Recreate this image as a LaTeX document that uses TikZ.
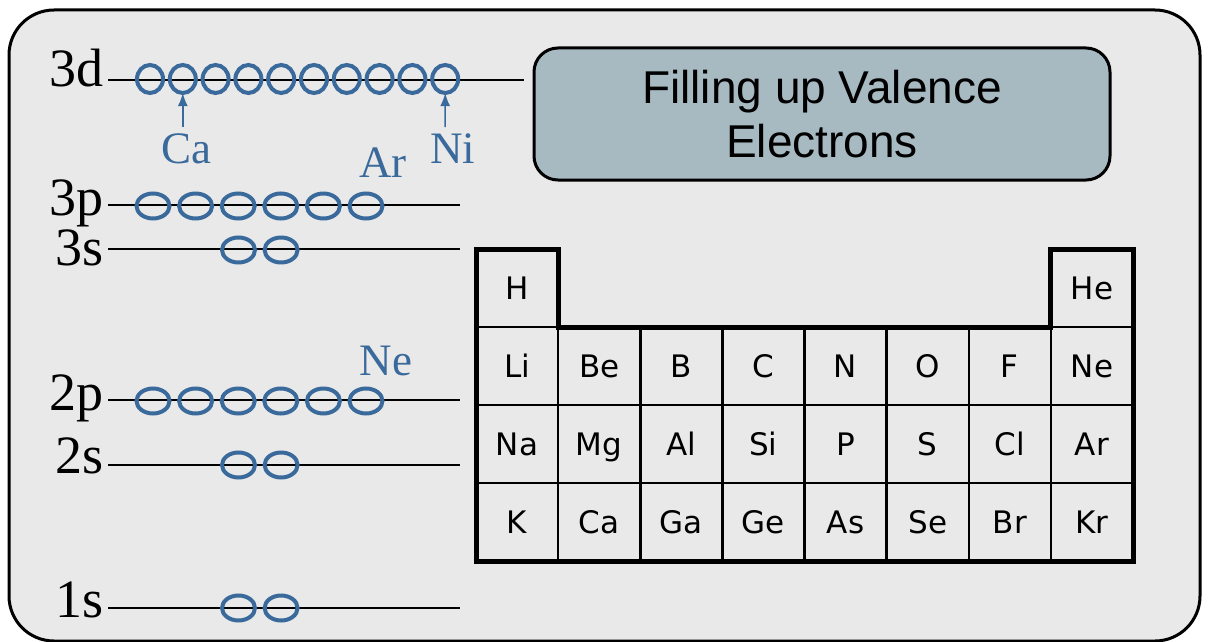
\documentclass[tikz,border=0pt]{standalone}
\usepackage{fontspec}
\setmainfont{Liberation Serif}
\newfontfamily\arialf{Liberation Sans}
\newfontfamily\dejavu{DejaVu Sans}
\usetikzlibrary{arrows.meta,shapes.geometric}
\definecolor{bg}{HTML}{E9E9E9}
\definecolor{eblue}{HTML}{3A6A9B}
\definecolor{titlefill}{HTML}{A7B9C1}
\begin{document}
\begin{tikzpicture}[x=1pt,y=-1pt,
  lev/.style={line width=1.4pt},
  lab/.style={font=\fontsize{54}{60}\selectfont, anchor=base east, inner sep=0pt},
  blab/.style={text=eblue, font=\fontsize{45}{50}\selectfont, inner sep=0pt, anchor=base},
  orbd/.style={draw=eblue, line width=4pt, ellipse, inner sep=0pt, outer sep=0pt, minimum width=26pt, minimum height=28pt},
  orbp/.style={draw=eblue, line width=4pt, ellipse, inner sep=0pt, outer sep=0pt, minimum width=33pt, minimum height=25pt},
  arr/.style={draw=eblue, line width=1.5pt, -{Latex[length=13pt,width=10pt]}},
  cell/.style={draw, line width=2.5pt, minimum width=82.125pt, minimum height=78pt, inner sep=0pt, text height=22.6pt, text depth=0pt, font=\dejavu\fontsize{31}{36}\selectfont},
  titlebox/.style={draw, line width=3pt, fill=titlefill, rounded corners=24pt, minimum width=576pt, minimum height=132pt, align=center, font=\arialf\fontsize{46}{54}\selectfont}
]
\path[use as bounding box] (0,0) rectangle (1208,642);
\clip (0,0) rectangle (1208,642);
% outer panel
\draw[line width=3pt, fill=bg, rounded corners=45pt] (9,10) rectangle (1200,641);

% level labels
\node[lab] (l3d) at (104,87) {3d};
\node[lab] (l3p) at (104,215) {3p};
\node[lab] (l3s) at (104,265) {3s};
\node[lab] (l2p) at (104,410) {2p};
\node[lab] (l2s) at (104,473) {2s};
\node[lab] (l1s) at (104,617) {1s};

% level lines
\coordinate (e3d) at (524,80);
\coordinate (e3p) at (460,205);
\coordinate (e3s) at (460,249);
\coordinate (e2p) at (460,400);
\coordinate (e2s) at (460,465);
\coordinate (e1s) at (460,608);
\draw[lev] (108,80) -- (e3d);
\draw[lev] (108,205) -- (e3p);
\draw[lev] (108,249) -- (e3s);
\draw[lev] (108,400) -- (e2p);
\draw[lev] (108,465) -- (e2s);
\draw[lev] (108,608) -- (e1s);

% orbitals
\foreach \k in {1,...,10} \node[orbd] (d\k) at ({150+32.8*(\k-1)},79) {};
\foreach \k in {1,...,6} \node[orbp] (tp\k) at ({153+42.6*(\k-1)},206) {};
\foreach \k in {1,...,6} \node[orbp] (wp\k) at ({153+42.6*(\k-1)},401) {};
\foreach \k in {1,2} {
  \node[orbp] (ts\k) at ({238.5+42.6*(\k-1)},250) {};
  \node[orbp] (ws\k) at ({238.5+42.6*(\k-1)},465) {};
  \node[orbp] (os\k) at ({238.5+42.6*(\k-1)},608) {};
}

% blue labels
\node[blab] (Ca) at (186,163) {Ca};
\node[blab] (Ni) at (453,163) {Ni};
\node[blab] (Ar) at (383,177) {Ar};
\node[blab] (Ne) at (386,375) {Ne};
\coordinate (caT) at (182.8,127);
\coordinate (niT) at (445.2,127);
\draw[arr] (caT) -- (d2.south);
\draw[arr] (niT) -- (d10.south);

% title
\node[titlebox] (title) at (822,114) {Filling up Valence\\Electrons};

% periodic table
\def\cw{82.125}
\node[cell] (H) at ({476+\cw*0.5},288) {H};
\node[cell] (He) at ({476+\cw*7.5},288) {He};
\foreach \n [count=\i from 0] in {Li,Be,B,C,N,O,F,Ne}
  \node[cell] (r1\n) at ({476+\cw*(\i+0.5)},366) {\n};
\foreach \n [count=\i from 0] in {Na,Mg,Al,Si,P,S,Cl,Ar}
  \node[cell] (r2\n) at ({476+\cw*(\i+0.5)},444) {\n};
\foreach \n [count=\i from 0] in {K,Ca,Ga,Ge,As,Se,Br,Kr}
  \node[cell] (r3\n) at ({476+\cw*(\i+0.5)},522) {\n};
\draw[line width=5pt, line join=miter] (476,249) -- (558.1,249) -- (558.1,327) -- (1050.9,327) -- (1050.9,249) -- (1133,249) -- (1133,561) -- (476,561) -- cycle;
\end{tikzpicture}
\end{document}
